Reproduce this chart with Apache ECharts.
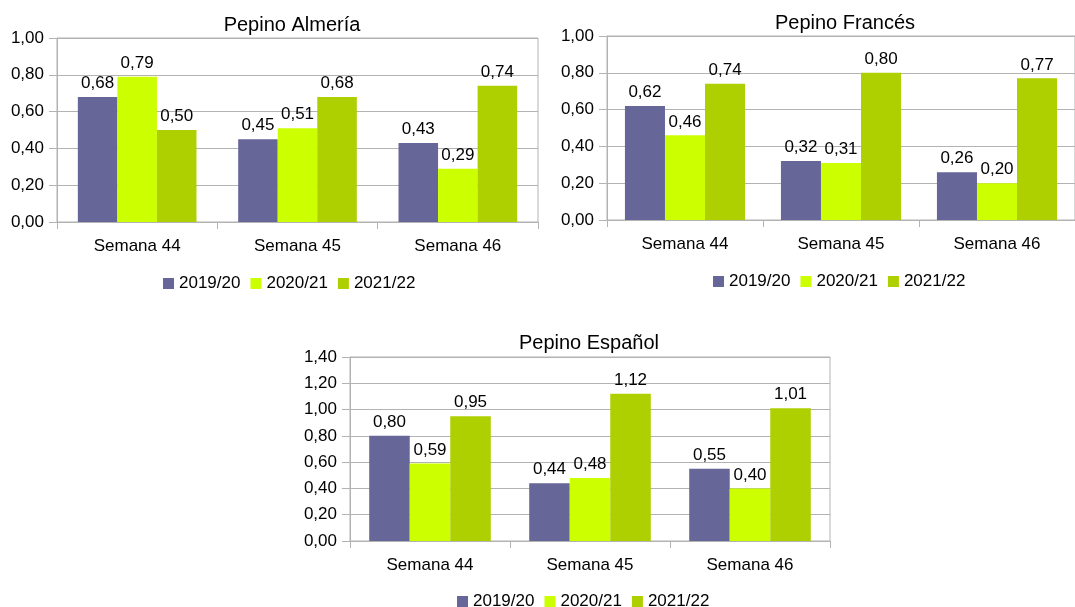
<!DOCTYPE html>
<html>
<head>
<meta charset="utf-8">
<script src="https://cdn.jsdelivr.net/npm/echarts@6/dist/echarts.min.js"></script>
<style>
html,body{margin:0;padding:0;background:#fff;}
#c{width:1075px;height:607px;}
</style>
</head>
<body>
<div id="c"></div>
<script>
const categories = ['Semana 44', 'Semana 45', 'Semana 46'];
const seasons = ['2019/20', '2020/21', '2021/22'];
const titles = ['Pepino Almería', 'Pepino Francés', 'Pepino Español'];

const almeria_1920 = [0.68, 0.45, 0.43];
const almeria_2021 = [0.79, 0.51, 0.29];
const almeria_2122 = [0.50, 0.68, 0.74];

const frances_1920 = [0.62, 0.32, 0.26];
const frances_2021 = [0.46, 0.31, 0.20];
const frances_2122 = [0.74, 0.80, 0.77];

const espanol_1920 = [0.80, 0.44, 0.55];
const espanol_2021 = [0.59, 0.48, 0.40];
const espanol_2122 = [0.95, 1.12, 1.01];

const yMax = [1.0, 1.0, 1.4];

const colors = ['#666699', '#ccff00', '#aecf00'];
const FONT = 'Liberation Sans';
const GRAY = '#b3b3b3';
const fmt = v => Number(v).toFixed(2).replace('.', ',');

const panels = [
  {data: [almeria_1920, almeria_2021, almeria_2122], grid: {left: 57, top: 38, width: 481, height: 184}, gap: '26%',
   title: {x: 287, y: 10}, legend: {left: 163, top: 275}},
  {data: [frances_1920, frances_2021, frances_2122], grid: {left: 607, top: 36, width: 468, height: 184}, gap: '23%',
   title: {x: 840, y: 8}, legend: {left: 713, top: 273}},
  {data: [espanol_1920, espanol_2021, espanol_2122], grid: {left: 350, top: 357, width: 480, height: 184}, gap: '24%',
   title: {x: 584, y: 328}, legend: {left: 457, top: 593}}
];

const option = {
  animation: false,
  textStyle: {fontFamily: FONT},
  title: [], legend: [], grid: [], xAxis: [], yAxis: [], series: []
};

panels.forEach((p, i) => {
  option.title.push({
    text: titles[i], left: p.title.x, top: p.title.y, textAlign: 'center',
    textStyle: {fontFamily: FONT, fontSize: 20, fontWeight: 'normal', color: '#000'}
  });
  option.legend.push({
    data: seasons, left: p.legend.left, top: p.legend.top, orient: 'horizontal',
    itemWidth: 11, itemHeight: 11, itemGap: 10, icon: 'rect', padding: 0,
    textStyle: {fontFamily: FONT, fontSize: 17, color: '#000'},
    selectedMode: false
  });
  option.grid.push(Object.assign({show: true, borderColor: GRAY, borderWidth: 1, containLabel: false}, p.grid));
  option.xAxis.push({
    type: 'category', gridIndex: i, data: categories,
    axisLine: {show: true, lineStyle: {color: GRAY, width: 1}},
    axisTick: {show: true, length: 7, lineStyle: {color: GRAY}},
    axisLabel: {fontFamily: FONT, fontSize: 17, color: '#000', margin: 16},
    splitLine: {show: false}
  });
  option.yAxis.push({
    type: 'value', gridIndex: i, min: 0, max: yMax[i], interval: 0.2,
    axisLine: {show: true, lineStyle: {color: GRAY, width: 1}},
    axisTick: {show: true, length: 8, lineStyle: {color: GRAY}},
    axisLabel: {fontFamily: FONT, fontSize: 17, color: '#000', margin: 13, formatter: fmt},
    splitLine: {show: true, lineStyle: {color: GRAY, width: 1}}
  });
  p.data.forEach((arr, k) => {
    option.series.push({
      type: 'bar', name: seasons[k], xAxisIndex: i, yAxisIndex: i, data: arr,
      barGap: '0%', barCategoryGap: p.gap,
      itemStyle: {color: colors[k]},
      label: {show: true, position: 'top', distance: 5, formatter: q => fmt(q.value),
              fontFamily: FONT, fontSize: 17, color: '#000'}
    });
  });
});

const chart = echarts.init(document.getElementById('c'), null, {renderer: 'canvas'});
chart.setOption(option);
</script>
</body>
</html>
